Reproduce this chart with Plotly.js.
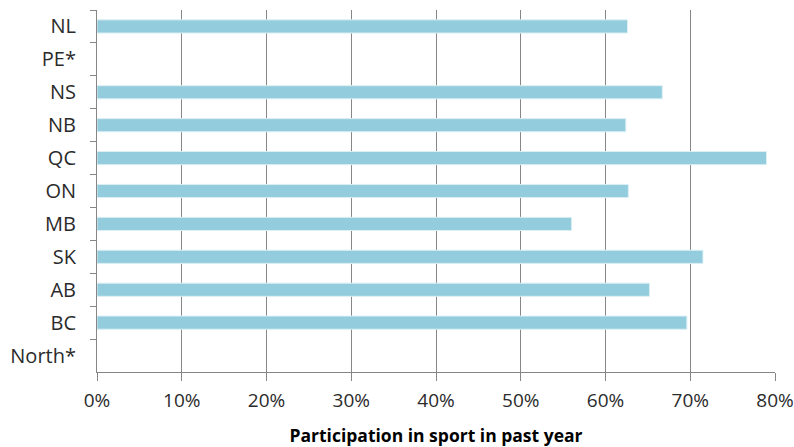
<!DOCTYPE html>
<html>
<head>
<meta charset="utf-8">
<script src="https://cdn.plot.ly/plotly-3.0.1.min.js"></script>
<style>
  html, body { margin: 0; padding: 0; background: #fff; }
  #chart { width: 794px; height: 447px; }
</style>
</head>
<body>
<div id="chart"></div>
<script>
// Provinces and territories, top to bottom
const regions = ['NL', 'PE*', 'NS', 'NB', 'QC', 'ON', 'MB', 'SK', 'AB', 'BC', 'North*'];
// Share who took part in sport in the past year (null = not reported)
const participation = [0.626, null, 0.667, 0.624, 0.790, 0.627, 0.560, 0.715, 0.652, 0.696, null];
const xTickValues = [0, 0.1, 0.2, 0.3, 0.4, 0.5, 0.6, 0.7, 0.8];

const axisGrey = '#868686';
const textColor = '#2b2b2b';

const trace = {
  type: 'bar',
  orientation: 'h',
  x: participation,
  y: regions,
  marker: { color: '#93CDDD', line: { color: '#DCEFF4', width: 1 } },
  hoverinfo: 'y+x'
};

const layout = {
  width: 794,
  height: 447,
  margin: { l: 97, r: 19, t: 10, b: 75 },
  paper_bgcolor: '#ffffff',
  plot_bgcolor: '#ffffff',
  bargap: 0.6,
  showlegend: false,
  xaxis: {
    range: [0, 0.8],
    tickvals: xTickValues,
    tickformat: '.0%',
    showgrid: true,
    gridcolor: axisGrey,
    gridwidth: 1,
    zeroline: false,
    showline: true,
    linecolor: axisGrey,
    linewidth: 1,
    ticks: 'outside',
    ticklen: 8,
    tickcolor: axisGrey,
    ticklabelstandoff: 3,
    tickfont: { family: 'Open Sans, sans-serif', size: 19, color: textColor },
    title: {
      text: 'Participation in sport in past year',
      font: { family: 'Open Sans, sans-serif', size: 17.5, color: '#000000', weight: 'bold' },
      standoff: 18
    }
  },
  yaxis: {
    type: 'category',
    categoryorder: 'array',
    categoryarray: regions,
    autorange: 'reversed',
    showgrid: false,
    zeroline: false,
    showline: true,
    linecolor: axisGrey,
    linewidth: 1,
    ticks: 'outside',
    tickson: 'boundaries',
    ticklen: 6,
    tickcolor: axisGrey,
    tickfont: { family: 'Open Sans, sans-serif', size: 20, color: textColor },
    ticklabelstandoff: 16
  }
};

Plotly.newPlot('chart', [trace], layout, { displayModeBar: false, staticPlot: true });
</script>
</body>
</html>
